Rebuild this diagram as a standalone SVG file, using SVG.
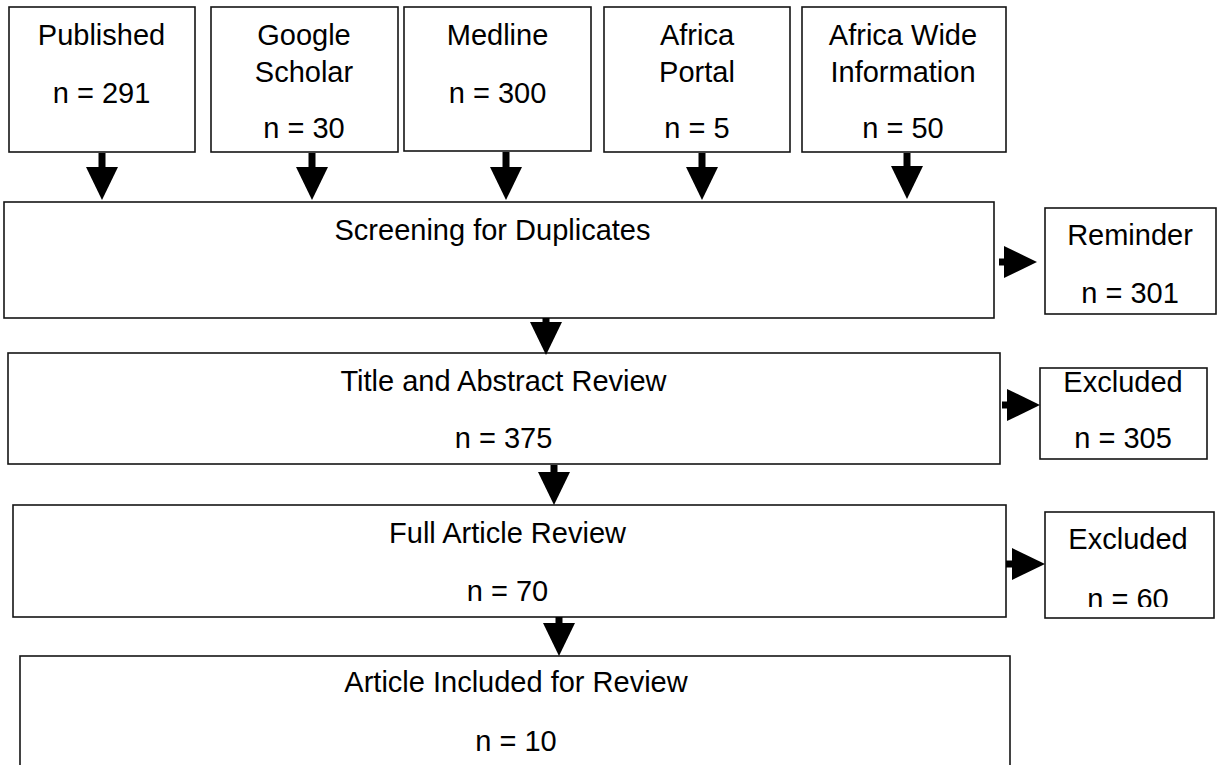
<svg xmlns="http://www.w3.org/2000/svg" width="1221" height="765" viewBox="0 0 1221 765">
<style>
.box{fill:#fff;stroke:#141414;stroke-width:1.6}
.t{font-family:"Liberation Sans",Arial,sans-serif;font-size:29px;fill:#000;text-anchor:middle}
.sh{stroke:#000;stroke-width:7;fill:none}
</style>
<defs>
<marker id="ah" markerUnits="userSpaceOnUse" markerWidth="33" markerHeight="32" refX="0" refY="16" orient="auto" viewBox="0 0 33 32" overflow="visible">
<path d="M0,0 L33,16 L0,32 Z" fill="#000"/>
</marker>
<clipPath id="clipEx2"><rect x="1045" y="512" width="169" height="95"/></clipPath>
</defs>
<rect width="1221" height="765" fill="#fff"/>

<g id="published">
<rect class="box" x="9" y="7" width="186" height="145"/>
<text class="t" x="101.5" y="45">Published</text>
<text class="t" x="101.5" y="103">n = 291</text>
</g>
<g id="google-scholar">
<rect class="box" x="211" y="7" width="187" height="145"/>
<text class="t" x="304" y="45">Google</text>
<text class="t" x="304" y="82">Scholar</text>
<text class="t" x="304" y="138">n = 30</text>
</g>
<g id="medline">
<rect class="box" x="404" y="7" width="187" height="144"/>
<text class="t" x="497.5" y="45">Medline</text>
<text class="t" x="497.5" y="103">n = 300</text>
</g>
<g id="africa-portal">
<rect class="box" x="604" y="7" width="186" height="145"/>
<text class="t" x="697" y="45">Africa</text>
<text class="t" x="697" y="82">Portal</text>
<text class="t" x="697" y="138">n = 5</text>
</g>
<g id="africa-wide">
<rect class="box" x="802" y="7" width="204" height="145"/>
<text class="t" x="903" y="45">Africa Wide</text>
<text class="t" x="903" y="82">Information</text>
<text class="t" x="903" y="138">n = 50</text>
</g>
<g id="screening">
<rect class="box" x="4" y="202" width="990" height="116"/>
<text class="t" x="492.5" y="240">Screening for Duplicates</text>
</g>
<g id="reminder">
<rect class="box" x="1045" y="208" width="171" height="106"/>
<text class="t" x="1130" y="245">Reminder</text>
<text class="t" x="1130" y="303">n = 301</text>
</g>
<g id="title-abstract">
<rect class="box" x="8" y="353" width="992" height="111"/>
<text class="t" x="503.5" y="391">Title and Abstract Review</text>
<text class="t" x="503.5" y="448">n = 375</text>
</g>
<g id="excluded-1">
<rect class="box" x="1040" y="368" width="167" height="91"/>
<text class="t" x="1123" y="392">Excluded</text>
<text class="t" x="1123" y="448">n = 305</text>
</g>
<g id="full-article">
<rect class="box" x="13" y="505" width="993" height="112"/>
<text class="t" x="507.5" y="543">Full Article Review</text>
<text class="t" x="507.5" y="601">n = 70</text>
</g>
<g id="excluded-2">
<rect class="box" x="1045" y="512" width="169" height="106"/>
<text class="t" x="1128" y="549">Excluded</text>
<text class="t" x="1128" y="609" clip-path="url(#clipEx2)">n = 60</text>
</g>
<g id="included">
<rect class="box" x="20" y="656" width="990" height="130"/>
<text class="t" x="516" y="692">Article Included for Review</text>
<text class="t" x="516" y="751">n = 10</text>
</g>

<g id="connectors">
<line class="sh" x1="102" y1="153" x2="102" y2="167" marker-end="url(#ah)"/>
<line class="sh" x1="312" y1="153" x2="312" y2="167" marker-end="url(#ah)"/>
<line class="sh" x1="506" y1="152" x2="506" y2="167" marker-end="url(#ah)"/>
<line class="sh" x1="702" y1="153" x2="702" y2="167" marker-end="url(#ah)"/>
<line class="sh" x1="907" y1="153" x2="907" y2="166" marker-end="url(#ah)"/>
<line class="sh" x1="546" y1="318" x2="546" y2="322" marker-end="url(#ah)"/>
<line class="sh" x1="554" y1="465" x2="554" y2="472" marker-end="url(#ah)"/>
<line class="sh" x1="559" y1="617" x2="559" y2="623" marker-end="url(#ah)"/>
<line class="sh" x1="999" y1="262" x2="1004" y2="262" marker-end="url(#ah)"/>
<line class="sh" x1="1002" y1="405" x2="1007" y2="405" marker-end="url(#ah)"/>
<line class="sh" x1="1006" y1="564" x2="1012" y2="564" marker-end="url(#ah)"/>
</g>
</svg>
